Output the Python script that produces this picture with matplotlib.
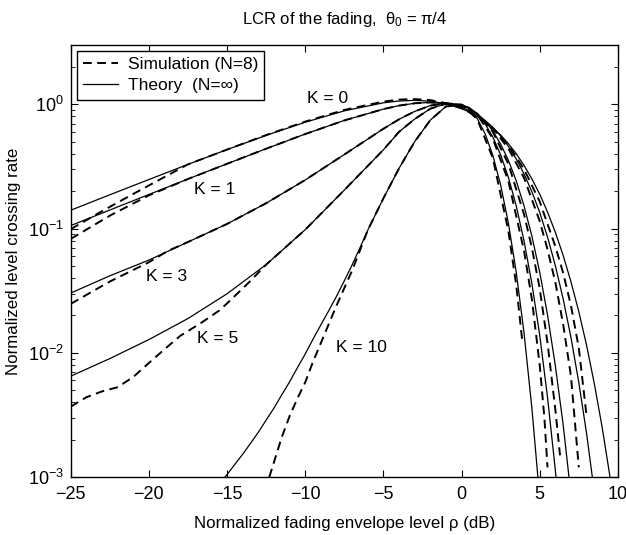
import matplotlib.pyplot as plt

# level in dB and normalized LCR values
db_k0_th = [-25, -22.5, -20, -17.5, -15, -12.5, -10, -7.5, -5, -4, -3, -2, -1, 0, 0.5, 1, 1.5, 2, 2.5, 3,
            3.5, 4, 4.5, 5, 5.5, 6, 6.5, 7, 7.5, 8, 8.5, 9, 9.5, 9.8]
k0_th = [0.1405, 0.187, 0.248, 0.3285, 0.432, 0.562, 0.717, 0.885, 1.027, 1.062, 1.075, 1.059, 1.01, 0.922,
         0.865, 0.799, 0.725, 0.647, 0.565, 0.482, 0.40, 0.322, 0.251, 0.189, 0.136, 0.0934, 0.0608, 0.0373,
         0.0215, 0.0115, 0.0056, 0.0025, 0.001, 0.00055]
db_k0_sim = [-25, -23, -21, -19, -17.5, -15, -12.5, -10, -7.5, -5, -4, -3, -2, -1, 0, 1, 2, 3, 4, 5, 6,
             6.5, 7, 7.5, 8]
k0_sim = [0.099, 0.138, 0.19, 0.26, 0.3285, 0.432, 0.565, 0.725, 0.90, 1.05, 1.09, 1.10, 1.08, 1.02, 0.93,
          0.80, 0.64, 0.47, 0.30, 0.165, 0.072, 0.044, 0.024, 0.011, 0.0031]

db_k1_th = [-25, -22.5, -20, -17.5, -15, -12.5, -10, -7.5, -5, -4, -3, -2, -1, 0, 0.5, 1, 1.5, 2, 2.5, 3,
            3.5, 4, 4.5, 5, 5.5, 6, 6.5, 7, 7.5, 8, 8.5]
k1_th = [0.1057, 0.141, 0.188, 0.2505, 0.332, 0.439, 0.576, 0.741, 0.914, 0.975, 1.018, 1.035, 1.013, 0.943,
         0.888, 0.822, 0.742, 0.653, 0.556, 0.458, 0.363, 0.275, 0.198, 0.135, 0.0855, 0.0503, 0.0272,
         0.0133, 0.0058, 0.00224, 0.00075]
db_k1_sim = [-25, -22.5, -20, -17.5, -15, -12.5, -10, -7.5, -5, -4, -3, -2, -1, 0, 1, 2, 3, 4, 5, 5.5, 6,
             6.5, 7, 7.5]
k1_sim = [0.0826, 0.127, 0.185, 0.2505, 0.332, 0.439, 0.576, 0.741, 0.914, 0.975, 1.018, 1.035, 1.013, 0.95,
          0.82, 0.64, 0.44, 0.255, 0.115, 0.068, 0.037, 0.017, 0.0065, 0.0012]

db_k3_th = [-25, -22.5, -20, -17.5, -15, -12.5, -10, -7.5, -5, -4, -3, -2, -1, 0, 0.5, 1, 1.5, 2, 2.5, 3,
            3.5, 4, 4.5, 5, 5.5, 6, 6.5, 7]
k3_th = [0.0303, 0.0417, 0.0558, 0.078, 0.109, 0.160, 0.246, 0.394, 0.635, 0.756, 0.876, 0.975, 1.02, 0.99,
         0.93, 0.843, 0.735, 0.61, 0.479, 0.353, 0.242, 0.152, 0.087, 0.0447, 0.0202, 0.0079, 0.00265, 0.00072]
db_k3_sim = [-25, -22.5, -20, -18.8, -17.5, -15, -12.5, -10, -7.5, -5, -4, -3, -2, -1, 0, 1, 2, 3, 4, 4.5,
             5, 5.5, 6, 6.3]
k3_sim = [0.0248, 0.0375, 0.0536, 0.066, 0.078, 0.109, 0.160, 0.246, 0.394, 0.635, 0.756, 0.876, 0.975,
          1.02, 0.99, 0.84, 0.60, 0.33, 0.13, 0.07, 0.033, 0.012, 0.0035, 0.0015]

db_k5_th = [-25, -22.5, -20, -17.5, -15, -12.5, -10, -7.5, -5, -4, -3, -2, -1, 0, 0.5, 1, 1.5, 2, 2.5, 3,
            3.5, 4, 4.5, 5, 5.5, 6, 6.2]
k5_th = [0.0065, 0.009, 0.0128, 0.0189, 0.0299, 0.0513, 0.098, 0.204, 0.43, 0.60, 0.76, 0.92, 1.01, 0.99,
         0.94, 0.835, 0.698, 0.545, 0.393, 0.258, 0.152, 0.0793, 0.0361, 0.0139, 0.0044, 0.00114, 0.00062]
db_k5_sim = [-25, -24, -23, -22, -21, -20, -19, -18, -16.7, -15.5, -14.8, -13.5, -12.5, -10, -7.5, -5, -4,
             -3, -2, -1, 0, 1, 2, 3, 4, 4.5, 5, 5.3, 5.5]
k5_sim = [0.0037, 0.0044, 0.0049, 0.0053, 0.0064, 0.0083, 0.0107, 0.0137, 0.0173, 0.0219, 0.0264, 0.038,
          0.0513, 0.098, 0.204, 0.43, 0.60, 0.76, 0.92, 1.01, 0.99, 0.83, 0.53, 0.24, 0.066, 0.027, 0.008,
          0.003, 0.0012]

db_k10_th = [-15.5, -15, -14.5, -14, -13.5, -13, -12.5, -12, -11.5, -11, -10.5, -10, -9.5, -9, -8.5, -8,
             -7.5, -7, -6.5, -6, -5, -4, -3, -2, -1, 0, 0.5, 1, 1.5, 2, 2.5, 3, 3.5, 4, 4.5, 5]
k10_th = [0.00088, 0.00105, 0.00127, 0.00153, 0.00187, 0.0023, 0.00288, 0.0036, 0.0046, 0.00585, 0.0076,
          0.0098, 0.0129, 0.0168, 0.0218, 0.0285, 0.038, 0.051, 0.070, 0.097, 0.175, 0.305, 0.50, 0.745,
          0.96, 0.995, 0.919, 0.77, 0.582, 0.388, 0.225, 0.110, 0.0445, 0.0144, 0.0036, 0.00068]
db_k10_sim = [-12.3, -11.5, -11, -10.5, -10, -9.5, -9, -8.5, -8, -7, -6, -5, -4, -3, -2, -1, 0, 1, 2, 3,
              3.5, 3.9]
k10_sim = [0.001, 0.0021, 0.0031, 0.0043, 0.0058, 0.0085, 0.012, 0.017, 0.024, 0.046, 0.097, 0.175, 0.305,
           0.50, 0.745, 0.96, 0.99, 0.76, 0.37, 0.095, 0.035, 0.012]

labels = ['K = 0', 'K = 1', 'K = 3', 'K = 5', 'K = 10']
label_db = [-8.55, -15.8, -18.9, -15.6, -6.4]
label_lcr = [1.12, 0.206, 0.0411, 0.0131, 0.0111]

plt.rcParams['font.family'] = ['Liberation Sans', 'DejaVu Sans']
plt.rcParams['mathtext.fontset'] = 'custom'
plt.rcParams['mathtext.rm'] = 'Liberation Sans'
plt.rcParams['mathtext.it'] = 'Liberation Sans:italic'

fig = plt.figure(figsize=(6.26, 5.35), dpi=100)
ax = fig.add_axes([0.113, 0.108, 0.874, 0.808])

dash = (0, (4.5, 2.8))
sims = [(db_k0_sim, k0_sim), (db_k1_sim, k1_sim), (db_k3_sim, k3_sim), (db_k5_sim, k5_sim),
        (db_k10_sim, k10_sim)]
theo = [(db_k0_th, k0_th), (db_k1_th, k1_th), (db_k3_th, k3_th), (db_k5_th, k5_th), (db_k10_th, k10_th)]

for i, (x, y) in enumerate(sims):
    ax.plot(x, y, color='k', lw=1.4, linestyle=dash, label='Simulation (N=8)' if i == 0 else None)
for i, (x, y) in enumerate(theo):
    ax.plot(x, y, color='k', lw=0.9, label='Theory  (N=\u221e)' if i == 0 else None)

for t, xd, yd in zip(labels, label_db, label_lcr):
    ax.text(xd, yd, t, ha='center', va='center', fontsize=12.5)

ax.set_yscale('log')
ax.set_xlim(-25, 10)
ax.set_ylim(1e-3, 3)
ax.set_xticks(range(-25, 11, 5))
ax.set_yticks([1e-3, 1e-2, 1e-1, 1])
ax.tick_params(which='both', direction='in', top=True, right=True, labelsize=13)
ax.tick_params(axis='x', pad=6)
ax.tick_params(axis='y', pad=5)
ax.tick_params(which='major', length=5)
ax.tick_params(which='minor', length=3)
for s in ax.spines.values():
    s.set_linewidth(1.0)

ax.set_title('LCR of the fading,  \u03b8$_0$ = \u03c0/4', fontsize=12, pad=15)
ax.set_xlabel('Normalized fading envelope level \u03c1 (dB)', fontsize=12.2, labelpad=10)
ax.set_ylabel('Normalized level crossing rate', fontsize=12.2, labelpad=5)

leg = ax.legend(loc='upper left', fontsize=12.5, handlelength=2.0, handletextpad=0.6,
                labelspacing=0.35, borderaxespad=0.35, borderpad=0.35, fancybox=False, framealpha=1)
leg.get_frame().set_edgecolor('k')
leg.get_frame().set_linewidth(1.0)

fig.savefig('out.png', dpi=100)
